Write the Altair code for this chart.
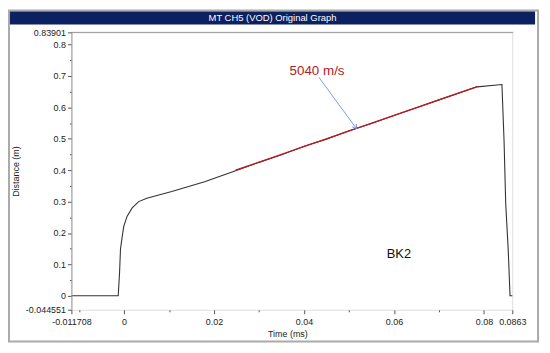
import altair as alt
import pandas as pd

# ---- data ----
time_ms = [-0.011708, -0.0013, -0.0010, -0.0008, -0.00044, -0.00007, 0.00066, 0.00176,
           0.00324, 0.00506, 0.0106, 0.0179, 0.0248, 0.030, 0.035, 0.040, 0.045, 0.050,
           0.055, 0.060, 0.065, 0.070, 0.0785, 0.0840, 0.08447, 0.08484, 0.08542, 0.0858, 0.0863]
distance_m = [0.0, 0.0, 0.075, 0.148, 0.186, 0.221, 0.253, 0.279,
              0.300, 0.311, 0.332, 0.363, 0.398, 0.425, 0.449, 0.476, 0.499, 0.526,
              0.549, 0.574, 0.599, 0.624, 0.6655, 0.673, 0.4945, 0.295, 0.139, 0.0, 0.0]

fit_time = [0.0248, 0.0785]
fit_dist = [0.400, 0.6665]

arrow_time = [0.0433, 0.0517]
arrow_dist = [0.696, 0.532]

label_vod = "5040 m/s"
label_vod_pos = (0.0429, 0.715)
label_bk = "BK2"
label_bk_pos = (0.0611, 0.132)

x_domain = [-0.011708, 0.0863]
y_domain = [-0.044551, 0.83901]
x_ticks = [-0.011708, -0.01, 0, 0.01, 0.02, 0.03, 0.04, 0.05, 0.06, 0.07, 0.08, 0.0863]
x_labels = [-0.011708, 0, 0.02, 0.04, 0.06, 0.08, 0.0863]
y_ticks = [-0.044551, 0, 0.05, 0.1, 0.15, 0.2, 0.25, 0.3, 0.35, 0.4, 0.45, 0.5, 0.55,
           0.6, 0.65, 0.7, 0.75, 0.8, 0.83901]
y_labels = [-0.044551, 0, 0.1, 0.2, 0.3, 0.4, 0.5, 0.6, 0.7, 0.8, 0.83901]

title_text = "MT CH5 (VOD) Original Graph"
FONT = "Liberation Sans"

df = pd.DataFrame({"t": time_ms, "d": distance_m, "i": range(len(time_ms))})
fit_df = pd.DataFrame({"t": fit_time, "d": fit_dist})
arrow_df = pd.DataFrame({"t": arrow_time, "d": arrow_dist})

def lst(v):
    return "[" + ",".join(repr(x) for x in v) + "]"

x_major_test = f"indexof({lst(x_labels)}, datum.value) >= 0"
y_major_test = f"indexof({lst(y_labels)}, datum.value) >= 0"

xscale = alt.Scale(domain=x_domain, nice=False, zero=False)
yscale = alt.Scale(domain=y_domain, nice=False, zero=False)

xaxis = alt.Axis(
    values=x_ticks, title="Time (ms)", domain=False, grid=False, zindex=2,
    labelExpr=f"{x_major_test} ? '' + datum.value : ''",
    tickSize={"condition": {"test": x_major_test, "value": 4}, "value": 2},
    tickColor="#555", labelFont=FONT, labelFontSize=9, labelColor="#222",
    labelPadding=4, labelFlush=False, labelOverlap=False, labelBound=False,
    titleFont=FONT, titleFontSize=9, titleFontWeight="normal", titleColor="#222",
    titlePadding=3, titleX=218,
)
yaxis = alt.Axis(
    values=y_ticks, title="Distance (m)", grid=False, domainColor="#999", zindex=2,
    labelExpr=f"{y_major_test} ? '' + datum.value : ''",
    tickSize={"condition": {"test": y_major_test, "value": 4}, "value": 2},
    tickColor="#555", labelFont=FONT, labelFontSize=9, labelColor="#222",
    labelPadding=2, labelFlush=False, labelOverlap=False, labelBound=False,
    titleFont=FONT, titleFontSize=9, titleFontWeight="normal", titleColor="#222",
    titlePadding=5,
)

X = alt.X("t:Q", scale=xscale, axis=xaxis)
Y = alt.Y("d:Q", scale=yscale, axis=yaxis)

# outer frame and title bar (pixel space)
frame = alt.Chart(pd.DataFrame({"a": [0]})).mark_rect(
    fillOpacity=0, stroke="#aaaaaa", strokeWidth=2
).encode(x=alt.value(-63), x2=alt.value(471), y=alt.value(-22), y2=alt.value(312))

bar = alt.Chart(pd.DataFrame({"a": [0]})).mark_rect(
    fill="#0b2162"
).encode(x=alt.value(-62), x2=alt.value(468), y=alt.value(-21), y2=alt.value(-8))

bar_text = alt.Chart(pd.DataFrame({"a": [0]})).mark_text(
    text=title_text, color="white", font=FONT, fontSize=9.5, align="center", baseline="middle"
).encode(x=alt.value(203), y=alt.value(-14.5))

top_line = alt.Chart(pd.DataFrame({"a": [0]})).mark_rule(color="#999", strokeWidth=1).encode(
    x=alt.value(0), x2=alt.value(446), y=alt.value(0)
)

curve = alt.Chart(df).mark_line(color="#333333", strokeWidth=1.1).encode(
    x=X, y=Y, order="i:Q"
)

fit = alt.Chart(fit_df).mark_line(color="#c0181c", strokeWidth=1.3).encode(x=X, y=Y)

arrow_line = alt.Chart(arrow_df).mark_line(color="#6f8fe8", strokeWidth=0.9).encode(x=X, y=Y)

arrow_head = alt.Chart(arrow_df.iloc[[1]]).mark_point(
    shape="M-0.6,1L0,0L0.6,1", filled=False, color="#6f8fe8", size=70, strokeWidth=0.9,
    angle=144, opacity=1
).encode(x=X, y=Y)

vod_text = alt.Chart(pd.DataFrame({"t": [label_vod_pos[0]], "d": [label_vod_pos[1]], "s": [label_vod]})).mark_text(
    color="#b5201e", font=FONT, fontSize=13.5, align="center", baseline="middle"
).encode(x=X, y=Y, text="s:N")

bk_text = alt.Chart(pd.DataFrame({"t": [label_bk_pos[0]], "d": [label_bk_pos[1]], "s": [label_bk]})).mark_text(
    color="#111", font=FONT, fontSize=13, align="center", baseline="middle"
).encode(x=X, y=Y, text="s:N")

chart = alt.layer(
    curve, frame, bar, bar_text, top_line, fit, arrow_line, arrow_head, vod_text, bk_text
).properties(
    width=445, height=280,
    autosize=alt.AutoSizeParams(type="none"),
    padding={"left": 64, "top": 23, "right": 30, "bottom": 40},
).configure_view(strokeWidth=0, stroke="transparent").configure_axis(
    labelOverlap=False
).configure(background="white")

chart.save("out.html", embed_options={"renderer": "svg", "actions": False})
